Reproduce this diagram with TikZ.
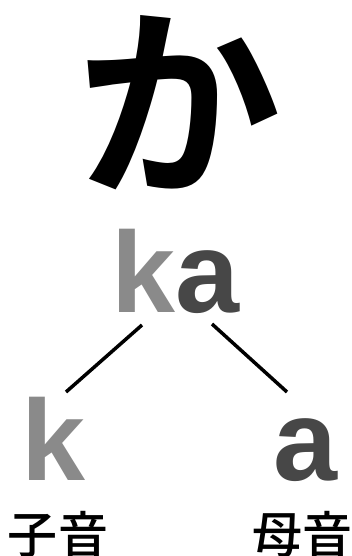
\documentclass[tikz,border=0pt]{standalone}
\usepackage{fontspec}
\newfontfamily\jp{Noto Sans CJK JP Medium}
\newfontfamily\jpb{Noto Sans CJK JP Bold}
\newfontfamily\lat{Liberation Sans}[BoldFont={* Bold}]
\definecolor{kgray}{HTML}{8A8A8A}
\definecolor{agray}{HTML}{474747}
\begin{document}
\begin{tikzpicture}[x=1pt,y=-1pt,
  every node/.style={inner sep=0pt,outer sep=0pt},
  kana/.style={font=\jpb\fontsize{205}{205}\selectfont},
  big/.style={font=\lat\bfseries\fontsize{115}{115}\selectfont},
  lbl/.style={font=\jp\fontsize{50}{50}\selectfont,anchor=north},
  link/.style={line width=3.5pt,draw=black}]
\useasboundingbox[fill=white] (0,0) rectangle (352,556);
\node[kana] (ka) at (179,103) {か};
\node[big,anchor=base] (roma) at (175,312) {\textcolor{kgray}{k}\textcolor{agray}{a}};
\node[big,anchor=base,text=kgray] (k) at (53,480) {k};
\node[big,anchor=base,text=agray] (a) at (305,480) {a};
\node[lbl] (cons) at (58,511) {子音};
\node[lbl] (vow) at (302,511) {母音};
\coordinate (l1) at (142,325);
\coordinate (l2) at (66,392);
\coordinate (r1) at (212,324);
\coordinate (r2) at (287,392);
\draw[link] (l1) -- (l2);
\draw[link] (r1) -- (r2);
\end{tikzpicture}
\end{document}
